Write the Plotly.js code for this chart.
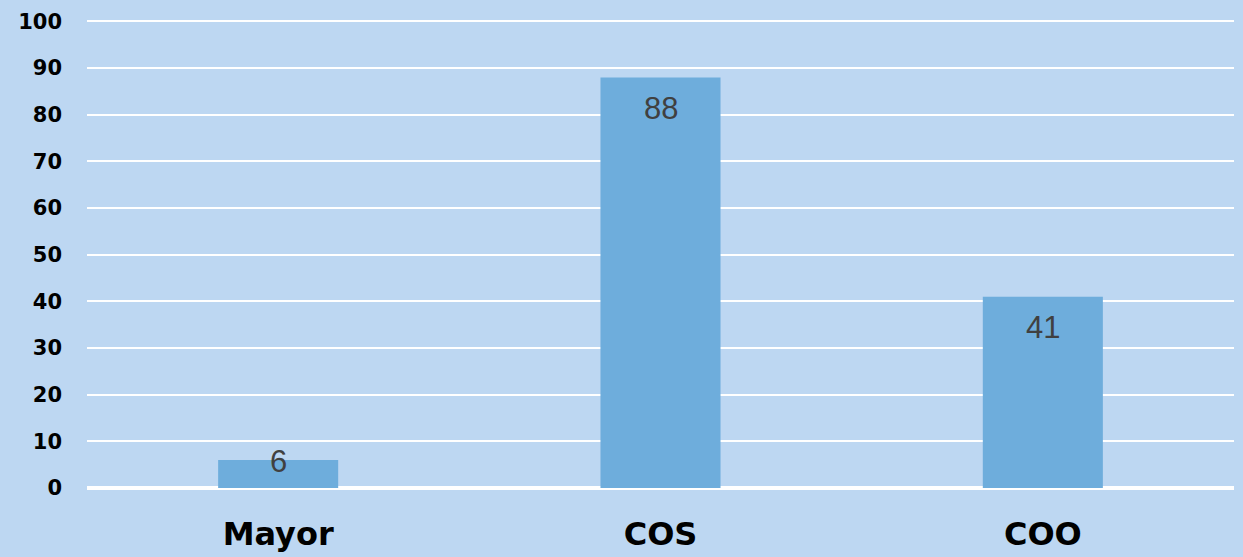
<!DOCTYPE html>
<html><head><meta charset="utf-8">
<script src="https://cdn.plot.ly/plotly-3.0.1.min.js"></script>
<style>html,body{margin:0;padding:0;background:#BDD7F2;}#chart{width:1243px;height:557px;}</style>
</head><body><div id="chart"></div>
<script>
const categories = ["Mayor", "COS", "COO"];
const values = [6, 88, 41];
const yTicks = [0, 10, 20, 30, 40, 50, 60, 70, 80, 90, 100];

const bg = "#BDD7F2";
const trace = {
  type: "bar",
  x: categories,
  y: values,
  marker: {color: "#6EADDC", line: {width: 0}},
  hoverinfo: "none"
};
const annotations = categories.map((c, i) => ({
  x: c, y: values[i], xref: "x", yref: "y",
  text: String(values[i]), showarrow: false,
  yanchor: "middle", yshift: values[i] > 10 ? -31 : -1,
  font: {family: "Liberation Sans, Arial, sans-serif", size: 31, color: "#404040"}
}));
const layout = {
  width: 1243, height: 557,
  margin: {l: 87, r: 9, t: 20, b: 69},
  paper_bgcolor: bg, plot_bgcolor: bg,
  bargap: 0.686,
  showlegend: false,
  xaxis: {
    showgrid: false, zeroline: false, showline: false,
    ticks: "", ticklabelstandoff: 24,
    tickfont: {family: "DejaVu Sans, sans-serif", size: 32, color: "#000", weight: "bold"}
  },
  yaxis: {
    range: [0, 100.3], tickvals: yTicks, ticktext: yTicks.map(String),
    showgrid: true, gridcolor: "#FFFFFF", gridwidth: 2,
    zeroline: true, zerolinecolor: "#FFFFFF", zerolinewidth: 4,
    showline: false, ticks: "", ticklabelstandoff: 24,
    tickfont: {family: "DejaVu Sans, sans-serif", size: 21, color: "#000", weight: "bold"}
  },
  annotations: annotations
};
Plotly.newPlot("chart", [trace], layout, {displayModeBar: false, staticPlot: true});
</script></body></html>
